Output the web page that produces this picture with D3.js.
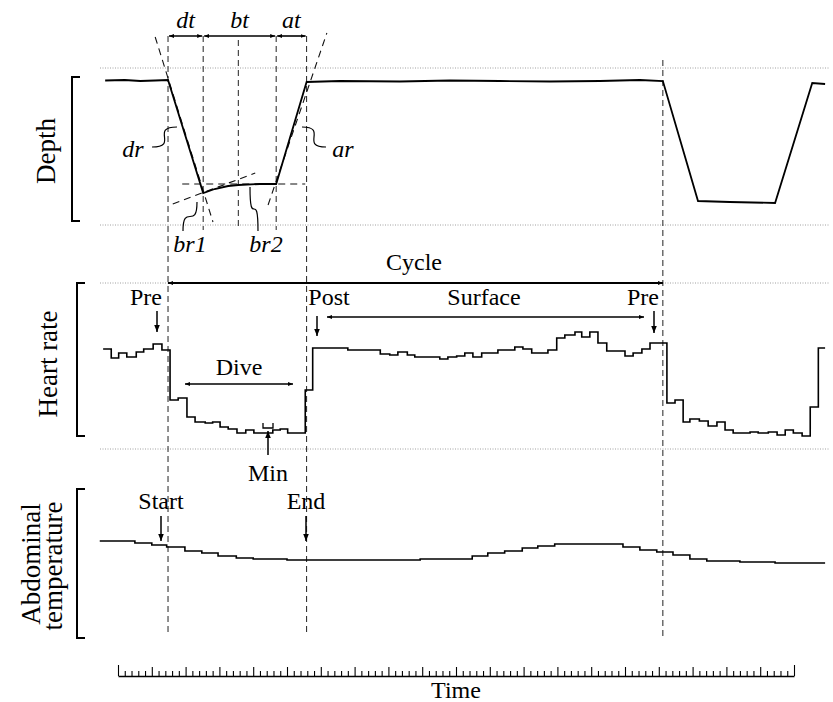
<!DOCTYPE html>
<html>
<head>
<meta charset="utf-8">
<script src="https://cdn.jsdelivr.net/npm/d3@7"></script>
<style>
  body { margin: 0; background: #fff; }
  text { font-family: 'Liberation Serif', 'Times New Roman', serif; fill: #000; }
</style>
</head>
<body>
<div id="chart"></div>
<script>
// time runs along the ruler (100 minor ticks)
const depthTime = [-1.9, 1.0, 3.3, 5.5, 7.4, 12.6, 14.3, 16.3, 17.8, 21.0, 23.4, 27.9, 32.8, 41.7, 49.1, 56.5, 63.9, 71.3, 77.2, 80.6, 85.8, 90.5, 97.2, 102.7, 104.6]
const depthValue = [6.25, 6, 6.5, 6.25, 6, 62.5, 60.5, 59, 58.5, 58, 58, 7, 6.5, 6.75, 6.25, 6.5, 6.75, 6.5, 6, 6.5, 66.5, 67, 67.5, 7.5, 8]

const hrTime = [-2.2, -1.0, 0.1, 1.3, 2.7, 3.8, 5.2, 6.5, 7.7, 8.9, 10.2, 11.4, 12.9, 14.0, 15.1, 16.3, 17.6, 18.9, 20.1, 22.9, 24.0, 25.1,
  27.7, 28.8, 34.0, 38.8, 40.2, 41.4, 42.8, 43.9, 47.6, 48.8, 50.1, 51.3, 52.5, 53.8, 56.2, 58.7, 59.9, 61.2, 63.6, 64.9, 66.1, 67.6,
  68.6, 69.8, 71.0, 72.3, 75.0, 76.2, 77.5, 78.7, 81.2, 82.4, 83.6, 84.6, 86.0, 87.3, 88.6, 89.8, 91.0, 93.5, 94.7, 96.2, 97.5, 98.7,
  99.9, 101.2, 102.4, 103.6, 104.6]
const hrValue = [90, 85.5, 88, 86, 88.5, 90, 92.5, 89.5, 64.5, 65.5, 56, 53.5, 53, 53.5, 51, 50, 48, 49.5, 48, 49.5, 50, 48,
  69.5, 90.5, 89.5, 87.5, 87, 88.5, 87, 86, 85, 86, 86.5, 88, 86, 88, 89.5, 91, 90, 88, 89.5, 95.5, 97, 98.5,
  96, 98.5, 93, 89, 86.5, 88, 90, 93, 63, 64.5, 53.5, 55, 54, 51.5, 53.5, 49.5, 48, 48.5, 48, 48.5, 47, 49.5,
  48, 46.5, 61, 90.5, 90.5]

const tempTime = [-2.7, 2.5, 5.0, 7.2, 9.9, 12.4, 14.8, 17.5, 20.0, 25.0, 44.7, 52.4, 54.7, 57.2, 59.8, 62.1, 64.6, 74.7, 77.2, 79.7, 82.1, 84.6, 87.1, 92.0, 97.2, 104.6]
const tempValue = [37.48, 37.46, 37.44, 37.42, 37.38, 37.36, 37.33, 37.31, 37.30, 37.29, 37.30, 37.33, 37.36, 37.38, 37.41, 37.43, 37.45, 37.42, 37.39, 37.37, 37.34, 37.30, 37.28, 37.27, 37.26, 37.26]

// dive phases: start, end of descent, mid bottom, start of ascent, end, next dive
const phaseTimes = [7.4, 12.6, 17.8, 23.4, 27.9, 80.6]
const phaseNames = ['dt', 'bt', 'at']
const rulerTicks = d3.range(0, 101)

// dashed fitted lines on the depth profile [time, depth]
const fitLines = [
  [[5.5, -15.5], [14.05, 77]],
  [[22.2, 68.5], [30.9, -17.5]],
  [[9.5, 58], [27.7, 58]],
  [[8.1, 68], [20.3, 52.5]]
]

const width = 833
const height = 702

const svg = d3.select('#chart')
  .append('svg')
  .attr('width', width)
  .attr('height', height)

const x = d3.scaleLinear().domain([0, 100]).range([118, 794])
const yDepth = d3.scaleLinear().domain([0, 78.5]).range([68, 225])
const yHR = d3.scaleLinear().domain([40, 123]).range([449, 283])
const yTemp = d3.scaleLinear().domain([36.5, 38.0]).range([639, 489])

const defs = svg.append('defs')
defs.append('marker')
  .attr('id', 'ah')
  .attr('viewBox', '0 0 10 10')
  .attr('refX', 10).attr('refY', 5)
  .attr('markerWidth', 7).attr('markerHeight', 7)
  .attr('markerUnits', 'userSpaceOnUse')
  .attr('orient', 'auto-start-reverse')
  .append('path').attr('d', 'M0,1L10,5L0,9z').attr('fill', '#000')
defs.append('marker')
  .attr('id', 'ahs')
  .attr('viewBox', '0 0 10 10')
  .attr('refX', 10).attr('refY', 5)
  .attr('markerWidth', 5).attr('markerHeight', 5)
  .attr('markerUnits', 'userSpaceOnUse')
  .attr('orient', 'auto-start-reverse')
  .append('path').attr('d', 'M0,1L10,5L0,9z').attr('fill', '#000')

// dotted panel limits
svg.selectAll('line.limit')
  .data([yDepth(0), yDepth(78.5), yHR(123), yHR(40)])
  .enter()
  .append('line')
  .attr('class', 'limit')
  .attr('x1', 100).attr('x2', 830)
  .attr('y1', d => d).attr('y2', d => d)
  .attr('stroke', '#888')
  .attr('stroke-width', 0.8)
  .attr('stroke-dasharray', '1,1.5')

// vertical dashed phase lines
const vlines = [
  { t: phaseTimes[0], y1: 36, y2: 634 },
  { t: phaseTimes[1], y1: 36, y2: 230 },
  { t: phaseTimes[2], y1: 40, y2: 230 },
  { t: phaseTimes[3], y1: 36, y2: 230 },
  { t: phaseTimes[4], y1: 36, y2: 634 },
  { t: phaseTimes[5], y1: 60, y2: 636 }
]
svg.selectAll('line.phase')
  .data(vlines)
  .enter()
  .append('line')
  .attr('class', 'phase')
  .attr('x1', d => x(d.t)).attr('x2', d => x(d.t))
  .attr('y1', d => d.y1).attr('y2', d => d.y2)
  .attr('stroke', '#222')
  .attr('stroke-width', 1)
  .attr('stroke-dasharray', '6,4')

// fitted lines
svg.selectAll('line.fit')
  .data(fitLines)
  .enter()
  .append('line')
  .attr('class', 'fit')
  .attr('x1', d => x(d[0][0])).attr('y1', d => yDepth(d[0][1]))
  .attr('x2', d => x(d[1][0])).attr('y2', d => yDepth(d[1][1]))
  .attr('stroke', '#111')
  .attr('stroke-width', 1.1)
  .attr('stroke-dasharray', '7,5')

// traces
const depthLine = d3.line().x(d => x(d[0])).y(d => yDepth(d[1]))
svg.append('path')
  .attr('d', depthLine(d3.zip(depthTime, depthValue)))
  .attr('fill', 'none').attr('stroke', '#000').attr('stroke-width', 1.8)

const hrLine = d3.line().x(d => x(d[0])).y(d => yHR(d[1])).curve(d3.curveStepAfter)
svg.append('path')
  .attr('d', hrLine(d3.zip(hrTime, hrValue)))
  .attr('fill', 'none').attr('stroke', '#000').attr('stroke-width', 1.6)

const tempLine = d3.line().x(d => x(d[0])).y(d => yTemp(d[1])).curve(d3.curveStepAfter)
svg.append('path')
  .attr('d', tempLine(d3.zip(tempTime, tempValue)))
  .attr('fill', 'none').attr('stroke', '#000').attr('stroke-width', 1.6)

// phase duration arrows dt / bt / at
const phaseSpans = [[phaseTimes[0], phaseTimes[1]], [phaseTimes[1], phaseTimes[3]], [phaseTimes[3], phaseTimes[4]]]
svg.selectAll('line.span')
  .data(phaseSpans)
  .enter()
  .append('line')
  .attr('x1', d => x(d[0]) + 1).attr('x2', d => x(d[1]) - 1)
  .attr('y1', 36).attr('y2', 36)
  .attr('stroke', '#000').attr('stroke-width', 1.6)
  .attr('marker-start', 'url(#ahs)').attr('marker-end', 'url(#ahs)')
svg.selectAll('text.span')
  .data(phaseSpans)
  .enter()
  .append('text')
  .attr('x', d => (x(d[0]) + x(d[1])) / 2)
  .attr('y', 28)
  .attr('text-anchor', 'middle')
  .attr('font-size', 24)
  .attr('font-style', 'italic')
  .text((d, i) => phaseNames[i])

// squiggly leaders
function squiggleH (x0, y0, x1, y1) {
  const dx = x1 - x0
  return 'M' + x0 + ',' + y0 + 'C' + (x0 + dx * 1.1) + ',' + y0 + ' ' + (x1 - dx * 1.1) + ',' + y1 + ' ' + x1 + ',' + y1
}
function squiggleV (x0, y0, x1, y1) {
  const dy = y1 - y0
  return 'M' + x0 + ',' + y0 + 'C' + x0 + ',' + (y0 + dy * 1.0) + ' ' + x1 + ',' + (y1 - dy * 1.0) + ' ' + x1 + ',' + y1
}
const leaders = [
  squiggleH(152, 147, 177, 127),
  squiggleH(326, 147, 302, 127),
  squiggleV(183, 231, 197, 202),
  squiggleV(258, 231, 250, 187)
]
svg.selectAll('path.leader')
  .data(leaders)
  .enter()
  .append('path')
  .attr('d', d => d)
  .attr('fill', 'none').attr('stroke', '#000').attr('stroke-width', 1.2)

const italicLabels = [
  { text: 'dr', x: 133, y: 157 },
  { text: 'ar', x: 343, y: 157 },
  { text: 'br1', x: 190, y: 252 },
  { text: 'br2', x: 266, y: 252 }
]
svg.selectAll('text.it')
  .data(italicLabels)
  .enter()
  .append('text')
  .attr('x', d => d.x).attr('y', d => d.y)
  .attr('text-anchor', 'middle')
  .attr('font-size', 24)
  .attr('font-style', 'italic')
  .text(d => d.text)

// cycle
svg.append('line')
  .attr('x1', x(phaseTimes[0])).attr('x2', x(phaseTimes[5]))
  .attr('y1', 283).attr('y2', 283)
  .attr('stroke', '#000').attr('stroke-width', 2)
  .attr('marker-start', 'url(#ahs)').attr('marker-end', 'url(#ahs)')

// horizontal double arrows
const spans = [
  { x1: 327, x2: 644, y: 317 },
  { x1: 185, x2: 293, y: 384 }
]
svg.selectAll('line.dbl')
  .data(spans)
  .enter()
  .append('line')
  .attr('x1', d => d.x1).attr('x2', d => d.x2)
  .attr('y1', d => d.y).attr('y2', d => d.y)
  .attr('stroke', '#000').attr('stroke-width', 1.5)
  .attr('marker-start', 'url(#ahs)').attr('marker-end', 'url(#ahs)')

// pointer arrows
const pointers = [
  { x: 157, y1: 311, y2: 332 },
  { x: 317, y1: 316, y2: 336 },
  { x: 654, y1: 311, y2: 333 },
  { x: 161, y1: 516, y2: 541 },
  { x: 306, y1: 516, y2: 541 },
  { x: 268, y1: 455, y2: 431 }
]
svg.selectAll('line.ptr')
  .data(pointers)
  .enter()
  .append('line')
  .attr('x1', d => d.x).attr('x2', d => d.x)
  .attr('y1', d => d.y1).attr('y2', d => d.y2)
  .attr('stroke', '#000').attr('stroke-width', 1.5)
  .attr('marker-end', 'url(#ah)')

// minimum marker
svg.append('path')
  .attr('d', 'M263,423V428H273V423')
  .attr('fill', 'none').attr('stroke', '#000').attr('stroke-width', 1.3)

const labels = [
  { text: 'Cycle', x: 414, y: 270 },
  { text: 'Pre', x: 146, y: 305 },
  { text: 'Post', x: 329, y: 305 },
  { text: 'Surface', x: 484, y: 305 },
  { text: 'Pre', x: 643, y: 305 },
  { text: 'Dive', x: 239, y: 375 },
  { text: 'Min', x: 268, y: 481 },
  { text: 'Start', x: 161, y: 509 },
  { text: 'End', x: 306, y: 509 },
  { text: 'Time', x: 456, y: 698 }
]
svg.selectAll('text.lab')
  .data(labels)
  .enter()
  .append('text')
  .attr('x', d => d.x).attr('y', d => d.y)
  .attr('text-anchor', 'middle')
  .attr('font-size', 24)
  .text(d => d.text)

// left brackets and titles
const brackets = [
  { x: 72, y1: 77, y2: 221 },
  { x: 77, y1: 283, y2: 436 },
  { x: 77, y1: 489, y2: 638 }
]
svg.selectAll('path.br')
  .data(brackets)
  .enter()
  .append('path')
  .attr('d', d => 'M' + (d.x + 8) + ',' + d.y1 + 'H' + d.x + 'V' + d.y2 + 'H' + (d.x + 8))
  .attr('fill', 'none').attr('stroke', '#000').attr('stroke-width', 2)

const titles = [
  { text: 'Depth', x: 55, y: 151 },
  { text: 'Heart rate', x: 57, y: 364 },
  { text: 'Abdominal', x: 40, y: 564 },
  { text: 'temperature', x: 62, y: 566 }
]
svg.selectAll('text.title')
  .data(titles)
  .enter()
  .append('text')
  .attr('transform', d => 'translate(' + d.x + ',' + d.y + ') rotate(-90)')
  .attr('text-anchor', 'middle')
  .attr('font-size', 27)
  .text(d => d.text)

// time ruler
const ruler = svg.append('g')
  .attr('transform', 'translate(0,676)')
  .call(d3.axisTop(x).tickValues(rulerTicks).tickFormat('').tickSizeOuter(0))
ruler.select('.domain').attr('stroke-width', 1.6)
ruler.selectAll('.tick line')
  .attr('y2', d => (d === 0 || d === 100) ? -11 : (d % 5 === 0 ? -9 : -5))
  .attr('stroke-width', 1.1)
</script>
</body>
</html>
